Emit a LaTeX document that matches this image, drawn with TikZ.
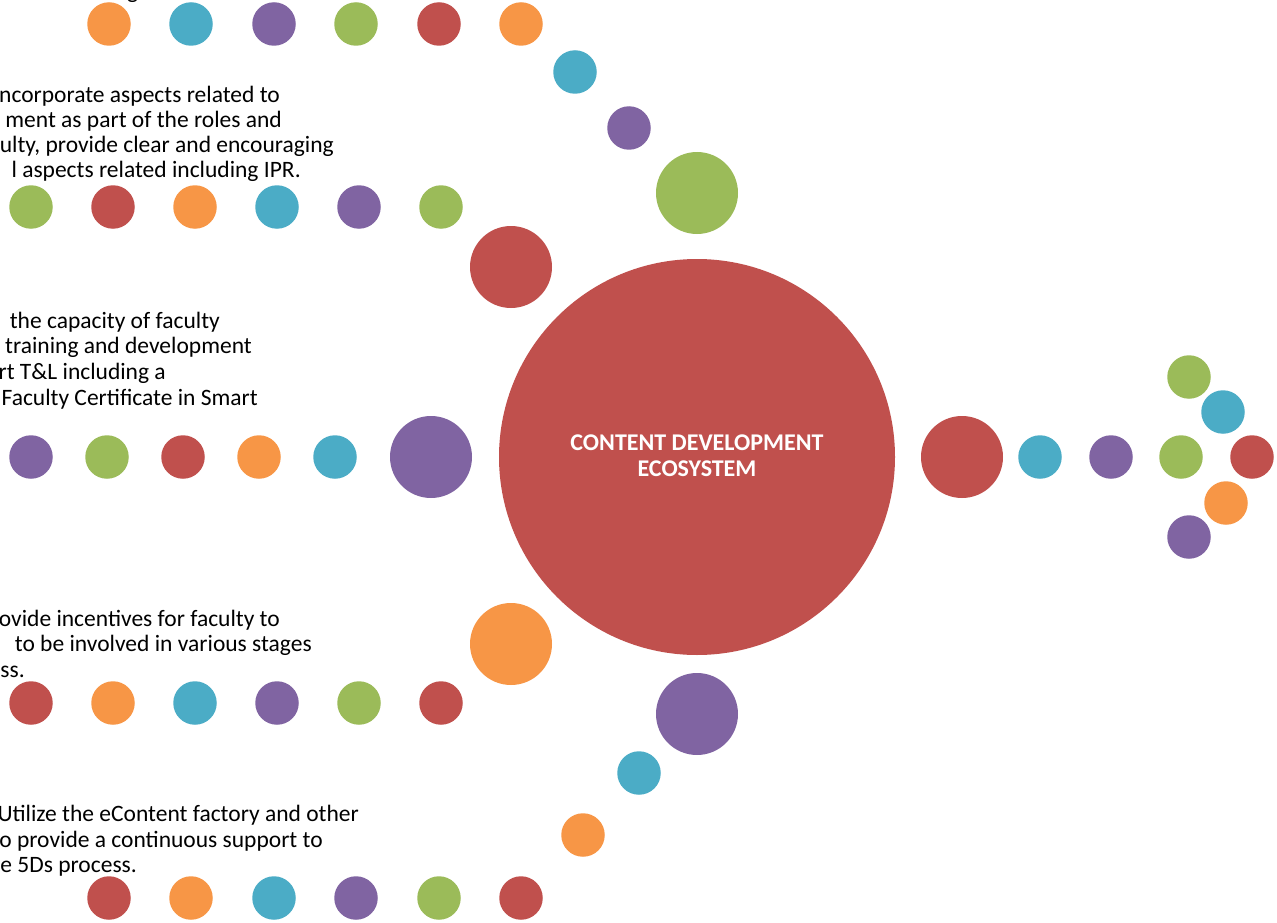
\documentclass[tikz,border=0pt]{standalone}
\usepackage{fontspec}
\setmainfont{Carlito}
\definecolor{dotred}{HTML}{C0504D}
\definecolor{dotorange}{HTML}{F79646}
\definecolor{dotblue}{HTML}{4BACC6}
\definecolor{dotpurple}{HTML}{8064A2}
\definecolor{dotgreen}{HTML}{9BBB59}
\begin{document}
\begin{tikzpicture}[x=1pt,y=-1pt]
            \useasboundingbox (0,0) rectangle (1277,923);
            % hub
            \node[circle,fill=dotred,inner sep=0pt,minimum size=396pt] (hub) at (697,457) {};
            \node[text=white,font=\bfseries\fontsize{24}{26}\selectfont,align=center] (title) at (697,456) {CONTENT DEVELOPMENT\\ECOSYSTEM};
            % small dots
            \begin{scope}[every node/.style={circle,inner sep=0pt,minimum size=43.5pt}]
                \node[fill=dotorange] (t1) at (109,24) {};
                \node[fill=dotblue] (t2) at (191,24) {};
                \node[fill=dotpurple] (t3) at (274,24) {};
                \node[fill=dotgreen] (t4) at (356,24) {};
                \node[fill=dotred] (t5) at (439,24) {};
                \node[fill=dotorange] (t6) at (521,24) {};
                \node[fill=dotblue] (t7) at (575,72) {};
                \node[fill=dotpurple] (t8) at (629,128) {};
                \node[fill=dotgreen] (u1) at (31,207) {};
                \node[fill=dotred] (u2) at (113,207) {};
                \node[fill=dotorange] (u3) at (195,207) {};
                \node[fill=dotblue] (u4) at (277,207) {};
                \node[fill=dotpurple] (u5) at (359,207) {};
                \node[fill=dotgreen] (u6) at (441,207) {};
                \node[fill=dotpurple] (m1) at (31,457) {};
                \node[fill=dotgreen] (m2) at (107,457) {};
                \node[fill=dotred] (m3) at (183,457) {};
                \node[fill=dotorange] (m4) at (259,457) {};
                \node[fill=dotblue] (m5) at (335,457) {};
                \node[fill=dotred] (l1) at (31,703) {};
                \node[fill=dotorange] (l2) at (113,703) {};
                \node[fill=dotblue] (l3) at (195,703) {};
                \node[fill=dotpurple] (l4) at (277,703) {};
                \node[fill=dotgreen] (l5) at (359,703) {};
                \node[fill=dotred] (l6) at (441,703) {};
                \node[fill=dotorange] (b8) at (583,835) {};
                \node[fill=dotblue] (b7) at (639,773) {};
                \node[fill=dotred] (b1) at (109,898) {};
                \node[fill=dotorange] (b2) at (191,898) {};
                \node[fill=dotblue] (b3) at (274,898) {};
                \node[fill=dotpurple] (b4) at (356,898) {};
                \node[fill=dotgreen] (b5) at (439,898) {};
                \node[fill=dotred] (b6) at (521,898) {};
                \node[fill=dotblue] (r2) at (1040,457) {};
                \node[fill=dotpurple] (r3) at (1111,457) {};
                \node[fill=dotgreen] (r4) at (1181,457) {};
                \node[fill=dotred] (r5) at (1252,457) {};
                \node[fill=dotgreen] (r6) at (1189,377) {};
                \node[fill=dotblue] (r7) at (1223,412) {};
                \node[fill=dotorange] (r8) at (1226,503) {};
                \node[fill=dotpurple] (r9) at (1189,537) {};
            \end{scope}
            % big dots
            \begin{scope}[every node/.style={circle,inner sep=0pt,minimum size=82pt}]
                \node[fill=dotgreen] (bigtop) at (697,193) {};
                \node[fill=dotred] (bigup) at (511,267) {};
                \node[fill=dotpurple] (bigmid) at (431,457) {};
                \node[fill=dotorange] (biglow) at (511,644) {};
                \node[fill=dotpurple] (bigbot) at (697,714) {};
                \node[fill=dotred] (bigright) at (962,457) {};
            \end{scope}
            % texts
            \begin{scope}[every node/.style={anchor=base east,inner sep=0pt,font=\fontsize{23.5}{25}\selectfont}]
                \node[anchor=base west] (cut) at (127,-1.5) {g};
                \node (p1a) at (280,102.5) {ncorporate aspects related to};
                \node (p1b) at (282,128) {ment as part of the roles and};
                \node (p1c) at (334,153) {ulty, provide clear and encouraging};
                \node (p1d) at (301,178) {l aspects related including IPR.};
                \node (p2a) at (220,328) {the capacity of faculty};
                \node (p2b) at (252,353) {training and development};
                \node (p2c) at (166,379) {rt T\&L including a};
                \node (p2d) at (258,405) {Faculty Certificate in Smart};
                \node (p3a) at (280,626) {ovide incentives for faculty to};
                \node (p3b) at (312,651) {to be involved in various stages};
                \node (p3c) at (25,677) {ss.};
                \node (p4a) at (359,821) {Utilize the eContent factory and other};
                \node (p4b) at (323,847) {o provide a continuous support to};
                \node (p4c) at (137,872) {e 5Ds process.};
            \end{scope}
        \end{tikzpicture}
\end{document}
